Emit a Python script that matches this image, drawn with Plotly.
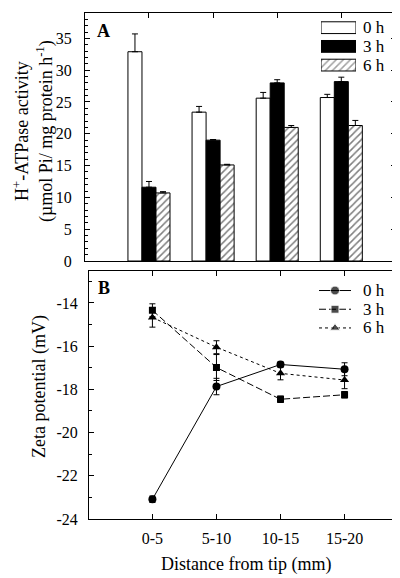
import plotly.graph_objects as go

# ---------------- data ----------------
groups = ["0-5", "5-10", "10-15", "15-20"]
series = ["0 h", "3 h", "6 h"]

atp_0h = [32.9, 23.4, 25.6, 25.7]
atp_0h_err = [2.8, 0.9, 0.9, 0.5]
atp_3h = [11.6, 19.0, 28.0, 28.2]
atp_3h_err = [0.9, 0.1, 0.5, 0.7]
atp_6h = [10.7, 15.1, 21.0, 21.3]
atp_6h_err = [0.2, 0.1, 0.3, 0.8]

zeta_0h = [-23.09, -17.87, -16.85, -17.07]
zeta_0h_err = [0.15, 0.38, 0.12, 0.3]
zeta_3h = [-14.34, -16.99, -18.46, -18.25]
zeta_3h_err = [0.3, 0.6, 0.15, 0.15]
zeta_6h = [-14.67, -16.05, -17.26, -17.57]
zeta_6h_err = [0.45, 0.3, 0.3, 0.4]

atp_ticks = [0, 5, 10, 15, 20, 25, 30, 35]
zeta_ticks = [-24, -22, -20, -18, -16, -14]
zeta_tick_text = ["-24", "-22", "-20", "-18", "-16", "-14"]

# ---------------- figure ----------------
W, H = 400, 578
FONT = "Liberation Serif, Times New Roman, Times, serif"
pos = list(range(len(groups)))


def px_x(p):
    return p / W


def px_y(p):
    return 1 - p / H


fig = go.Figure()

bar_line = dict(color="black", width=1)


def up_err(arr):
    return dict(type="data", array=arr, arrayminus=[0] * len(arr), symmetric=False,
                color="black", thickness=1, width=3)


fig.add_trace(go.Bar(x=pos, y=atp_0h, name=series[0], xaxis="x", yaxis="y",
                     marker=dict(color="white", line=bar_line),
                     error_y=up_err(atp_0h_err), showlegend=False))
fig.add_trace(go.Bar(x=pos, y=atp_3h, name=series[1], xaxis="x", yaxis="y",
                     marker=dict(color="black", line=bar_line),
                     error_y=up_err(atp_3h_err), showlegend=False))
fig.add_trace(go.Bar(x=pos, y=atp_6h, name=series[2], xaxis="x", yaxis="y",
                     marker=dict(color="white", line=bar_line,
                                 pattern=dict(shape="/", fgcolor="black", bgcolor="white",
                                              size=5, solidity=0.3)),
                     error_y=up_err(atp_6h_err), showlegend=False))

# legend boxes for panel A, drawn on a small helper axis
fig.add_trace(go.Bar(y=[0, 1, 2], x=[1, 1, 1], base=0, orientation="h", width=0.63,
                     xaxis="x3", yaxis="y3", showlegend=False, hoverinfo="skip",
                     marker=dict(color=["white", "black", "white"], line=bar_line,
                                 pattern=dict(shape=["", "", "/"],
                                              fgcolor=["black", "black", "black"],
                                              bgcolor=["white", "black", "white"],
                                              size=5, solidity=0.3))))


def sym_err(arr):
    return dict(type="data", array=arr, color="black", thickness=1, width=3)


line_styles = [dict(color="black", width=1),
               dict(color="black", width=1, dash="7px,3px"),
               dict(color="black", width=1, dash="dot")]
marker_styles = [dict(symbol="circle", size=8, color="black"),
                 dict(symbol="square", size=7, color="black"),
                 dict(symbol="triangle-up", size=8, color="black")]
zeta_vals = [zeta_0h, zeta_3h, zeta_6h]
zeta_errs = [zeta_0h_err, zeta_3h_err, zeta_6h_err]

for k in range(3):
    fig.add_trace(go.Scatter(x=pos, y=zeta_vals[k], name=series[k], xaxis="x2", yaxis="y2",
                             mode="lines+markers", line=line_styles[k],
                             marker=marker_styles[k], error_y=sym_err(zeta_errs[k]),
                             showlegend=False))

# legend samples for panel B, drawn on a small helper axis
for k in range(3):
    ms = dict(marker_styles[k])
    ms["size"] = [0, marker_styles[k]["size"] + 1, 0]
    fig.add_trace(go.Scatter(x=[0, 0.5, 1], y=[k, k, k], xaxis="x4", yaxis="y4",
                             mode="lines+markers", line=line_styles[k], marker=ms,
                             showlegend=False, hoverinfo="skip"))

axis_common = dict(showline=True, linecolor="black", linewidth=1, mirror="allticks",
                   ticks="inside", tickcolor="black", tickwidth=1, showgrid=False,
                   zeroline=False, tickfont=dict(family=FONT, size=16, color="black"))

fig.update_layout(
    width=W, height=H,
    margin=dict(l=0, r=0, t=0, b=0),
    paper_bgcolor="white", plot_bgcolor="white",
    font=dict(family=FONT, color="black"),
    barmode="group", bargap=0.344, bargroupgap=0,
    showlegend=False,
    xaxis=dict(domain=[px_x(77), px_x(388)], range=[-0.998, 3.853], anchor="y",
               tickvals=pos, showticklabels=False, ticklen=5, **axis_common),
    yaxis=dict(domain=[px_y(257), px_y(5)], range=[0, 39], anchor="x",
               tickvals=atp_ticks, ticklen=5, ticklabelstandoff=9,
               minor=dict(tickmode="linear", tick0=0, dtick=1, ticks="inside",
                          ticklen=3, tickcolor="black"),
               **axis_common),
    xaxis2=dict(domain=[px_x(81), px_x(391)], range=[-0.99, 3.85], anchor="y2",
                tickvals=pos, ticktext=groups, ticklen=5, ticklabelstandoff=5,
                **axis_common),
    yaxis2=dict(domain=[px_y(519), px_y(266.7)], range=[-24, -12.5], anchor="x2",
                tickvals=zeta_ticks, ticktext=zeta_tick_text, ticklen=5,
                ticklabelstandoff=7,
                minor=dict(tickmode="linear", tick0=-24, dtick=1, ticks="inside",
                           ticklen=3, tickcolor="black"),
                **axis_common),
    xaxis3=dict(domain=[px_x(313), px_x(348)], range=[0, 1], anchor="y3", visible=False),
    yaxis3=dict(domain=[px_y(67.5), px_y(10.5)], range=[2.5, -0.5], anchor="x3",
                visible=False),
    xaxis4=dict(domain=[px_x(311), px_x(343)], range=[0, 1], anchor="y4", visible=False),
    yaxis4=dict(domain=[px_y(334.5), px_y(277.5)], range=[2.5, -0.5], anchor="x4",
                visible=False),
)

ann_font = dict(family=FONT, size=18, color="black")
leg_font = dict(family=FONT, size=17, color="black")
for k, name in enumerate(series):
    fig.add_annotation(x=px_x(353), xref="paper", y=k, yref="y3", text=name,
                       showarrow=False, xanchor="left", yanchor="middle", font=leg_font)
    fig.add_annotation(x=px_x(353), xref="paper", y=k, yref="y4", text=name,
                       showarrow=False, xanchor="left", yanchor="middle", font=leg_font)

fig.add_annotation(x=px_x(25), y=px_y(125), xref="paper", yref="paper",
                   text="H<sup>+</sup>-ATPase activity<br>(µmol Pi/ mg protein h<sup>-1</sup>)",
                   textangle=-90, showarrow=False, xanchor="center", yanchor="middle",
                   font=ann_font)
fig.add_annotation(x=px_x(31), y=px_y(385), xref="paper", yref="paper",
                   text="Zeta potential (mV)", textangle=-90, showarrow=False,
                   xanchor="center", yanchor="middle", font=ann_font)
fig.add_annotation(x=px_x(238.5), y=px_y(565), xref="paper", yref="paper",
                   text="Distance from tip (mm)", showarrow=False,
                   xanchor="center", yanchor="middle", font=ann_font)
fig.add_annotation(x=px_x(95), y=px_y(23), xref="paper", yref="paper",
                   text="<b>A</b>", showarrow=False, xanchor="center", yanchor="middle",
                   font=dict(family=FONT, size=18, color="black"))
fig.add_annotation(x=px_x(96), y=px_y(284), xref="paper", yref="paper",
                   text="<b>B</b>", showarrow=False, xanchor="center", yanchor="middle",
                   font=dict(family=FONT, size=18, color="black"))

fig.write_html("out.html")
